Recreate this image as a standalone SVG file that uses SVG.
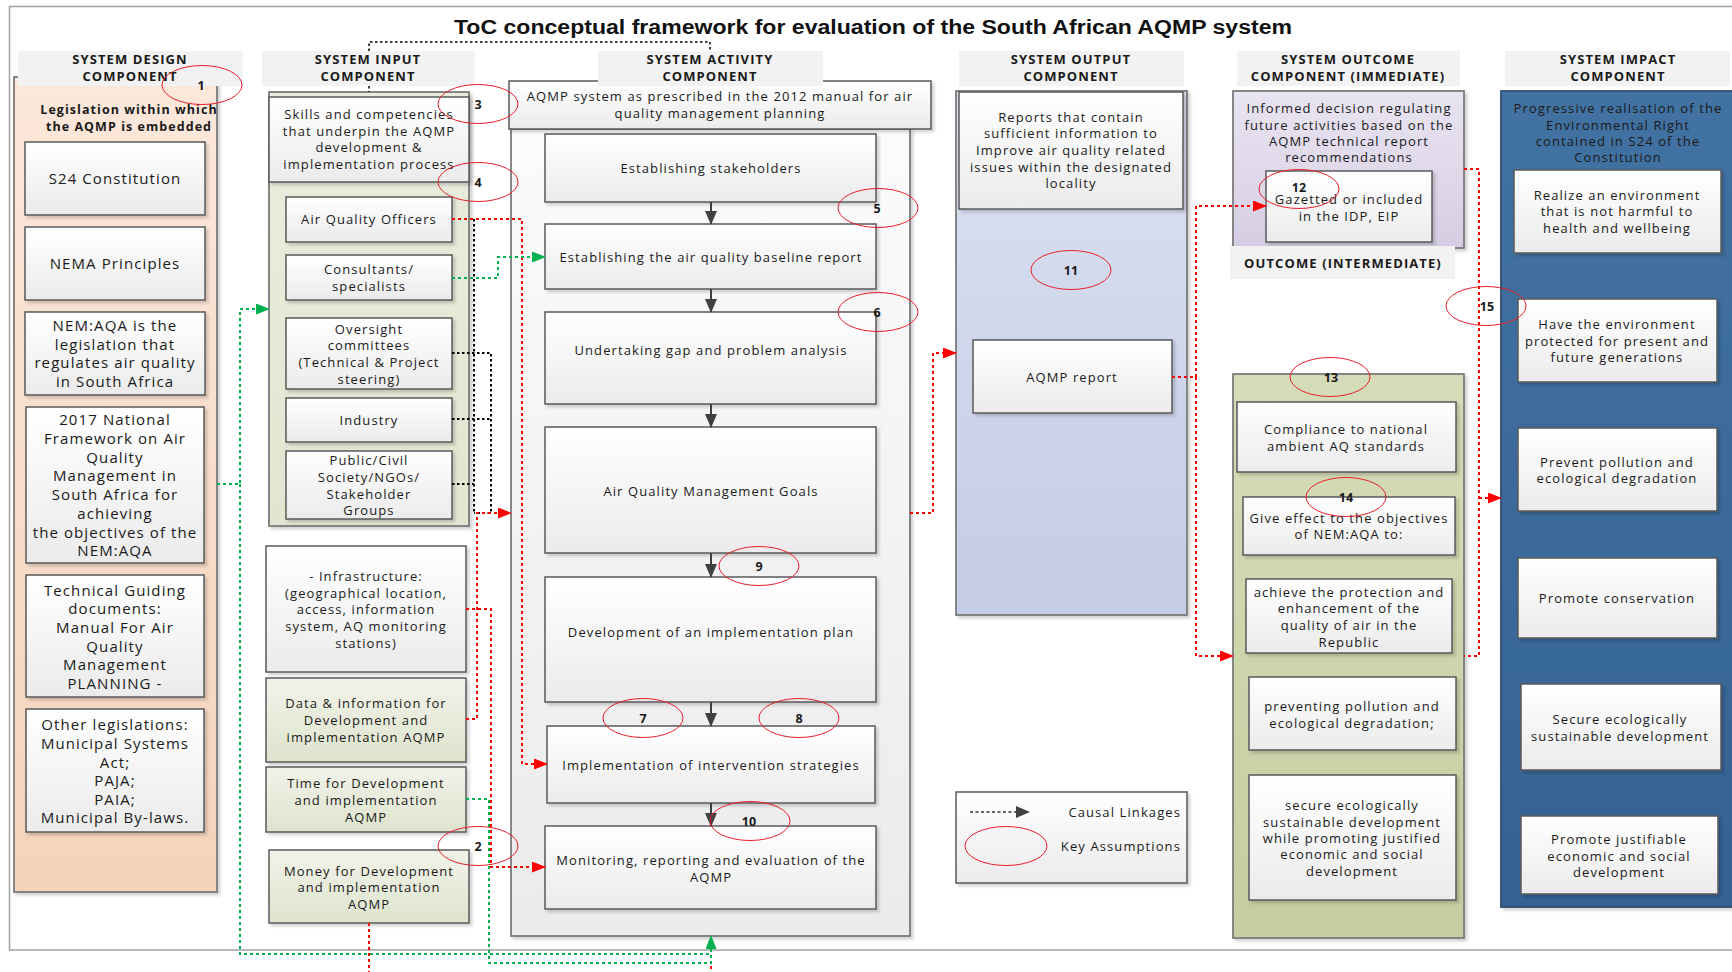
<svg xmlns="http://www.w3.org/2000/svg" width="1732" height="972" viewBox="0 0 1732 972">
  <defs>
    <style>
      .hd { font-family: "Open Sans", "Noto Sans", sans-serif; font-weight: bold; font-size: 13px; letter-spacing: 1.1px; fill: #1a1a1a; text-anchor: middle; dominant-baseline: central; }
      .lb { font-family: "Open Sans", "Noto Sans", sans-serif; font-weight: bold; font-size: 12.5px; letter-spacing: 1.05px; fill: #1a1a1a; text-anchor: middle; dominant-baseline: central; }
      .tx { font-family: "Open Sans", "Noto Sans", sans-serif; font-size: 13px; letter-spacing: 1.1px; fill: #1a1a1a; text-anchor: middle; dominant-baseline: central; }
      .tl { font-family: "Open Sans", "Noto Sans", sans-serif; font-size: 15px; letter-spacing: 1.1px; fill: #1a1a1a; text-anchor: middle; dominant-baseline: central; }
      .num { font-family: "Open Sans", "Noto Sans", sans-serif; font-weight: bold; font-size: 12.5px; fill: #1a1a1a; text-anchor: middle; dominant-baseline: central; }
      .band { fill: #f2f2f2; }
      .box { fill: url(#gBox); stroke: #595959; stroke-width: 1.5; filter: url(#sh); }
      .gbox { fill: url(#gGreen); stroke: #595959; stroke-width: 1.5; filter: url(#sh); }
      .panel { stroke: #7a7a7a; stroke-width: 1.8; filter: url(#sh); }
      .ka { fill: none; stroke: #e8202a; stroke-width: 1; }
      .red { fill: none; stroke: #ff0000; stroke-width: 2; stroke-dasharray: 3 3; }
      .grn { fill: none; stroke: #00b050; stroke-width: 2; stroke-dasharray: 3 3; }
      .blk { fill: none; stroke: #000000; stroke-width: 2; stroke-dasharray: 2.5 2.5; }
      .flow { fill: none; stroke: #404040; stroke-width: 2; }
    </style>
    <linearGradient id="gBox" x1="0" y1="0" x2="0" y2="1"><stop offset="0" stop-color="#ffffff"/><stop offset="1" stop-color="#ebebeb"/></linearGradient>
    <linearGradient id="gGreen" x1="0" y1="0" x2="0" y2="1"><stop offset="0" stop-color="#f1f3e9"/><stop offset="1" stop-color="#dee3cd"/></linearGradient>
    <linearGradient id="gInput" x1="0" y1="0" x2="0" y2="1"><stop offset="0" stop-color="#eaedde"/><stop offset="1" stop-color="#e1e6d0"/></linearGradient>
    <linearGradient id="gDesign" x1="0" y1="0" x2="0" y2="1"><stop offset="0" stop-color="#fce8db"/><stop offset="1" stop-color="#f5d3bb"/></linearGradient>
    <linearGradient id="gAct" x1="0" y1="0" x2="0" y2="1"><stop offset="0" stop-color="#fbfbfb"/><stop offset="1" stop-color="#ebebeb"/></linearGradient>
    <linearGradient id="gOutput" x1="0" y1="0" x2="0" y2="1"><stop offset="0" stop-color="#dce1f1"/><stop offset="1" stop-color="#c4cce6"/></linearGradient>
    <linearGradient id="gImm" x1="0" y1="0" x2="0" y2="1"><stop offset="0" stop-color="#e9e4f1"/><stop offset="1" stop-color="#d5cee3"/></linearGradient>
    <linearGradient id="gInter" x1="0" y1="0" x2="0" y2="1"><stop offset="0" stop-color="#d5dcb9"/><stop offset="1" stop-color="#c5cea0"/></linearGradient>
    <linearGradient id="gImpact" x1="0" y1="0" x2="0" y2="1"><stop offset="0" stop-color="#4272a2"/><stop offset="1" stop-color="#356292"/></linearGradient>
    <filter id="sh" x="-10%" y="-10%" width="125%" height="125%">
      <feDropShadow dx="2.5" dy="2.5" stdDeviation="1.4" flood-color="#000000" flood-opacity="0.18"/>
    </filter>
    <marker id="aR" markerWidth="14" markerHeight="11" refX="13" refY="5.5" orient="auto" markerUnits="userSpaceOnUse"><path d="M0,0 L14,5.5 L0,11 Z" fill="#ff0000"/></marker>
    <marker id="aG" markerWidth="14" markerHeight="11" refX="13" refY="5.5" orient="auto" markerUnits="userSpaceOnUse"><path d="M0,0 L14,5.5 L0,11 Z" fill="#00b050"/></marker>
    <marker id="aK" markerWidth="14" markerHeight="12" refX="13" refY="6" orient="auto" markerUnits="userSpaceOnUse"><path d="M0,0 L14,6 L0,12 Z" fill="#404040"/></marker>
  </defs>

  <rect x="0" y="0" width="1732" height="972" fill="#ffffff"/>

  <!-- outer frame and title -->
  <g id="frame">
    <rect x="9.5" y="6.5" width="1740" height="943.5" fill="#ffffff" stroke="#a3a3a3" stroke-width="1.5"/>
    <text x="873" y="34" font-family="Liberation Sans, Arial, sans-serif" font-weight="bold" font-size="19.5" fill="#111111" text-anchor="middle" textLength="838" lengthAdjust="spacingAndGlyphs">ToC conceptual framework for evaluation of the South African AQMP system</text>
  </g>

  <!-- system design component -->
  <g id="design">
    <rect class="panel" x="14" y="77" width="203" height="815" fill="url(#gDesign)"/>
    <rect class="band" x="18" y="51" width="225" height="35"/>
    <text class="hd" x="130" y="59">SYSTEM DESIGN</text>
    <text class="hd" x="130" y="76">COMPONENT</text>
    <text class="lb" x="129" y="109">Legislation within which</text>
    <text class="lb" x="129" y="126">the AQMP is embedded</text>
    <g id="s24"><rect class="box" x="25" y="142" width="180" height="73"/><text class="tl" x="115" y="178">S24 Constitution</text></g>
    <g id="nema"><rect class="box" x="25" y="227" width="180" height="73"/><text class="tl" x="115" y="263">NEMA Principles</text></g>
    <g id="nemaqa"><rect class="box" x="25" y="312" width="180" height="83"/>
      <text class="tl" x="115" y="325">NEM:AQA is the</text><text class="tl" x="115" y="344">legislation that</text><text class="tl" x="115" y="362">regulates air quality</text><text class="tl" x="115" y="381">in South Africa</text></g>
    <g id="framework2017"><rect class="box" x="26" y="407" width="178" height="156"/>
      <text class="tl" x="115" y="419">2017 National</text><text class="tl" x="115" y="438">Framework on Air</text><text class="tl" x="115" y="457">Quality</text><text class="tl" x="115" y="475">Management in</text><text class="tl" x="115" y="494">South Africa for</text><text class="tl" x="115" y="513">achieving</text><text class="tl" x="115" y="532">the objectives of the</text><text class="tl" x="115" y="550">NEM:AQA</text></g>
    <g id="technical"><rect class="box" x="26" y="575" width="178" height="122"/>
      <text class="tl" x="115" y="590">Technical Guiding</text><text class="tl" x="115" y="608">documents:</text><text class="tl" x="115" y="627">Manual For Air</text><text class="tl" x="115" y="646">Quality</text><text class="tl" x="115" y="664">Management</text><text class="tl" x="115" y="683">PLANNING -</text></g>
    <g id="otherleg"><rect class="box" x="26" y="709" width="178" height="123"/>
      <text class="tl" x="115" y="724">Other legislations:</text><text class="tl" x="115" y="743">Municipal Systems</text><text class="tl" x="115" y="762">Act;</text><text class="tl" x="115" y="780">PAJA;</text><text class="tl" x="115" y="799">PAIA;</text><text class="tl" x="115" y="817">Municipal By-laws.</text></g>
  </g>

  <!-- system input component -->
  <g id="input">
    <rect class="band" x="262" y="51" width="213" height="35"/>
    <text class="hd" x="368" y="59">SYSTEM INPUT</text>
    <text class="hd" x="368" y="76">COMPONENT</text>
    <rect class="panel" x="269" y="92" width="200" height="434" fill="url(#gInput)"/>
    <g id="skills"><rect class="box" x="269" y="97" width="200" height="85"/>
      <text class="tx" x="369" y="114">Skills and competencies</text><text class="tx" x="369" y="131">that underpin the AQMP</text><text class="tx" x="369" y="147">development &amp;</text><text class="tx" x="369" y="164">implementation process</text></g>
    <g id="aqo"><rect class="box" x="286" y="197" width="166" height="45"/><text class="tx" x="369" y="219">Air Quality Officers</text></g>
    <g id="consultants"><rect class="box" x="286" y="255" width="166" height="45"/><text class="tx" x="369" y="269">Consultants/</text><text class="tx" x="369" y="286">specialists</text></g>
    <g id="oversight"><rect class="box" x="286" y="318" width="166" height="71"/>
      <text class="tx" x="369" y="329">Oversight</text><text class="tx" x="369" y="345">committees</text><text class="tx" x="369" y="362">(Technical &amp; Project</text><text class="tx" x="369" y="379">steering)</text></g>
    <g id="industry"><rect class="box" x="286" y="398" width="166" height="44"/><text class="tx" x="369" y="420">Industry</text></g>
    <g id="public"><rect class="box" x="286" y="451" width="166" height="68"/>
      <text class="tx" x="369" y="460">Public/Civil</text><text class="tx" x="369" y="477">Society/NGOs/</text><text class="tx" x="369" y="494">Stakeholder</text><text class="tx" x="369" y="510">Groups</text></g>
    <g id="infrastructure"><rect class="box" x="266" y="546" width="200" height="126"/>
      <text class="tx" x="366" y="576">- Infrastructure:</text><text class="tx" x="366" y="593">(geographical location,</text><text class="tx" x="366" y="609">access, information</text><text class="tx" x="366" y="626">system, AQ monitoring</text><text class="tx" x="366" y="643">stations)</text></g>
    <g id="data"><rect class="gbox" x="266" y="678" width="200" height="84"/>
      <text class="tx" x="366" y="703">Data &amp; information for</text><text class="tx" x="366" y="720">Development and</text><text class="tx" x="366" y="737">implementation AQMP</text></g>
    <g id="time"><rect class="gbox" x="266" y="767" width="200" height="65"/>
      <text class="tx" x="366" y="783">Time for Development</text><text class="tx" x="366" y="800">and implementation</text><text class="tx" x="366" y="817">AQMP</text></g>
    <g id="money"><rect class="gbox" x="269" y="850" width="200" height="73"/>
      <text class="tx" x="369" y="871">Money for Development</text><text class="tx" x="369" y="887">and implementation</text><text class="tx" x="369" y="904">AQMP</text></g>
  </g>

  <!-- system activity component -->
  <g id="activity">
    <rect class="panel" x="511" y="129" width="399" height="807" fill="url(#gAct)"/>
    <g id="aqmp-system"><rect class="box" x="509" y="81" width="422" height="48"/>
      <text class="tx" x="720" y="96">AQMP system as prescribed in the 2012 manual for air</text><text class="tx" x="720" y="113">quality management planning</text></g>
    <rect class="band" x="598" y="51" width="225" height="35"/>
    <text class="hd" x="710" y="59">SYSTEM ACTIVITY</text>
    <text class="hd" x="710" y="76">COMPONENT</text>
    <g id="stakeholders"><rect class="box" x="545" y="134" width="331" height="68"/><text class="tx" x="711" y="168">Establishing stakeholders</text></g>
    <g id="baseline"><rect class="box" x="545" y="224" width="331" height="65"/><text class="tx" x="711" y="257">Establishing the air quality baseline report</text></g>
    <g id="gap"><rect class="box" x="545" y="312" width="331" height="92"/><text class="tx" x="711" y="350">Undertaking gap and problem analysis</text></g>
    <g id="goals"><rect class="box" x="545" y="427" width="331" height="126"/><text class="tx" x="711" y="491">Air Quality Management Goals</text></g>
    <g id="plan"><rect class="box" x="545" y="577" width="331" height="125"/><text class="tx" x="711" y="632">Development of an implementation plan</text></g>
    <g id="intervention"><rect class="box" x="547" y="726" width="328" height="77"/><text class="tx" x="711" y="765">Implementation of intervention strategies</text></g>
    <g id="monitoring"><rect class="box" x="545" y="826" width="331" height="83"/>
      <text class="tx" x="711" y="860">Monitoring, reporting and evaluation of the</text><text class="tx" x="711" y="877">AQMP</text></g>
  </g>

  <!-- system output component -->
  <g id="output">
    <rect class="band" x="959" y="51" width="225" height="35"/>
    <text class="hd" x="1071" y="59">SYSTEM OUTPUT</text>
    <text class="hd" x="1071" y="76">COMPONENT</text>
    <rect class="panel" x="956" y="91" width="231" height="524" fill="url(#gOutput)"/>
    <g id="reports"><rect class="box" x="959" y="92" width="224" height="117"/>
      <text class="tx" x="1071" y="117">Reports that contain</text><text class="tx" x="1071" y="133">sufficient information to</text><text class="tx" x="1071" y="150">Improve air quality related</text><text class="tx" x="1071" y="167">issues within the designated</text><text class="tx" x="1071" y="183">locality</text></g>
    <g id="aqmp-report"><rect class="box" x="973" y="340" width="199" height="73"/><text class="tx" x="1072" y="377">AQMP report</text></g>
  </g>

  <!-- system outcome component -->
  <g id="outcome">
    <rect class="band" x="1237" y="51" width="223" height="35"/>
    <text class="hd" x="1348" y="59">SYSTEM OUTCOME</text>
    <text class="hd" x="1348" y="76">COMPONENT (IMMEDIATE)</text>
    <rect class="panel" x="1233" y="91" width="231" height="157" fill="url(#gImm)"/>
    <text class="tx" x="1349" y="108">Informed decision regulating</text><text class="tx" x="1349" y="125">future activities based on the</text><text class="tx" x="1349" y="141">AQMP technical report</text><text class="tx" x="1349" y="157">recommendations</text>
    <g id="gazetted"><rect class="box" x="1266" y="171" width="166" height="71"/>
      <text class="tx" x="1349" y="199">Gazetted or included</text><text class="tx" x="1349" y="216">in the IDP, EIP</text></g>
    <rect class="band" x="1230" y="246" width="225" height="33"/>
    <text class="hd" x="1343" y="263">OUTCOME (INTERMEDIATE)</text>
    <rect class="panel" x="1233" y="374" width="231" height="564" fill="url(#gInter)"/>
    <g id="compliance"><rect class="box" x="1237" y="402" width="219" height="70"/>
      <text class="tx" x="1346" y="429">Compliance to national</text><text class="tx" x="1346" y="446">ambient AQ standards</text></g>
    <g id="give-effect"><rect class="box" x="1243" y="497" width="212" height="58"/>
      <text class="tx" x="1349" y="518">Give effect to the objectives</text><text class="tx" x="1349" y="534">of NEM:AQA to:</text></g>
    <g id="achieve"><rect class="box" x="1246" y="579" width="206" height="74"/>
      <text class="tx" x="1349" y="592">achieve the protection and</text><text class="tx" x="1349" y="608">enhancement of the</text><text class="tx" x="1349" y="625">quality of air in the</text><text class="tx" x="1349" y="642">Republic</text></g>
    <g id="preventing"><rect class="box" x="1249" y="677" width="207" height="73"/>
      <text class="tx" x="1352" y="706">preventing pollution and</text><text class="tx" x="1352" y="723">ecological degradation;</text></g>
    <g id="secure-dev"><rect class="box" x="1249" y="775" width="207" height="125"/>
      <text class="tx" x="1352" y="805">secure ecologically</text><text class="tx" x="1352" y="822">sustainable development</text><text class="tx" x="1352" y="838">while promoting justified</text><text class="tx" x="1352" y="854">economic and social</text><text class="tx" x="1352" y="871">development</text></g>
  </g>

  <!-- system impact component -->
  <g id="impact">
    <rect class="band" x="1505" y="51" width="225" height="35"/>
    <text class="hd" x="1618" y="59">SYSTEM IMPACT</text>
    <text class="hd" x="1618" y="76">COMPONENT</text>
    <rect x="1501" y="91" width="240" height="816" fill="url(#gImpact)" stroke="#2d4e74" stroke-width="1.8" filter="url(#sh)"/>
    <text class="tx" x="1618" y="108">Progressive realisation of the</text><text class="tx" x="1618" y="125">Environmental Right</text><text class="tx" x="1618" y="141">contained in S24 of the</text><text class="tx" x="1618" y="157">Constitution</text>
    <g id="realize"><rect class="box" x="1514" y="170" width="207" height="83"/>
      <text class="tx" x="1617" y="195">Realize an environment</text><text class="tx" x="1617" y="211">that is not harmful to</text><text class="tx" x="1617" y="228">health and wellbeing</text></g>
    <g id="protected"><rect class="box" x="1518" y="299" width="199" height="83"/>
      <text class="tx" x="1617" y="324">Have the environment</text><text class="tx" x="1617" y="341">protected for present and</text><text class="tx" x="1617" y="357">future generations</text></g>
    <g id="prevent"><rect class="box" x="1518" y="428" width="199" height="83"/>
      <text class="tx" x="1617" y="462">Prevent pollution and</text><text class="tx" x="1617" y="478">ecological degradation</text></g>
    <g id="conservation"><rect class="box" x="1518" y="558" width="199" height="80"/><text class="tx" x="1617" y="598">Promote conservation</text></g>
    <g id="secure"><rect class="box" x="1521" y="684" width="200" height="86"/>
      <text class="tx" x="1620" y="719">Secure ecologically</text><text class="tx" x="1620" y="736">sustainable development</text></g>
    <g id="justifiable"><rect class="box" x="1521" y="816" width="197" height="78"/>
      <text class="tx" x="1619" y="839">Promote justifiable</text><text class="tx" x="1619" y="856">economic and social</text><text class="tx" x="1619" y="872">development</text></g>
  </g>

  <!-- causal linkages -->
  <g id="connectors">
    <!-- activity sequence -->
    <path class="flow" d="M711,202 V224" marker-end="url(#aK)"/>
    <path class="flow" d="M711,289 V312" marker-end="url(#aK)"/>
    <path class="flow" d="M711,404 V427" marker-end="url(#aK)"/>
    <path class="flow" d="M711,553 V577" marker-end="url(#aK)"/>
    <path class="flow" d="M711,702 V726" marker-end="url(#aK)"/>
    <path class="flow" d="M711,803 V826" marker-end="url(#aK)"/>
    <!-- input to activity header -->
    <path class="blk" style="stroke-width:1.5" d="M369,51 V42 H710 V51"/>
    <path class="blk" style="stroke-width:1.5" d="M369,86 V92"/>
    <!-- stakeholders group -->
    <path class="blk" d="M474,219 V513"/>
    <path class="blk" d="M452,353 H491 V513 H474"/>
    <path class="blk" d="M452,419 H491"/>
    <path class="blk" d="M452,484 H474"/>
    <path class="red" d="M466,719 H477 V513 H511" marker-end="url(#aR)"/>
    <!-- officers to intervention strategies -->
    <path class="red" d="M452,219 H522 V764 H547" marker-end="url(#aR)"/>
    <!-- consultants to baseline -->
    <path class="grn" d="M452,278 H498 V257 H545" marker-end="url(#aG)"/>
    <!-- infrastructure to monitoring -->
    <path class="red" d="M466,609 H491 V867 H545" marker-end="url(#aR)"/>
    <!-- design to input and activity -->
    <path class="grn" d="M217,484 H240 V309 H269" marker-end="url(#aG)"/>
    <path class="grn" d="M240,484 V954 H711"/>
    <path class="grn" d="M466,799 H489 V963 H711 V936" marker-end="url(#aG)"/>
    <path class="red" d="M369,923 V972"/>
    <path class="red" d="M711,966 V972"/>
    <!-- activity to output -->
    <path class="red" d="M910,513 H933 V353 H956" marker-end="url(#aR)"/>
    <!-- output to outcomes -->
    <path class="red" d="M1172,377 H1196 V206 H1266" marker-end="url(#aR)"/>
    <path class="red" d="M1196,377 V656 H1233" marker-end="url(#aR)"/>
    <!-- outcomes to impact -->
    <path class="red" d="M1464,169 H1479 V656 H1464"/>
    <path class="red" d="M1479,498 H1501" marker-end="url(#aR)"/>
  </g>

  <!-- key assumptions -->
  <g id="assumptions">
    <ellipse class="ka" cx="202" cy="85" rx="40" ry="19.5"/><text class="num" x="201" y="85">1</text>
    <ellipse class="ka" cx="478" cy="846" rx="40" ry="19.5"/><text class="num" x="478" y="846">2</text>
    <ellipse class="ka" cx="478" cy="104" rx="40" ry="19.5"/><text class="num" x="478" y="104">3</text>
    <ellipse class="ka" cx="478" cy="182" rx="40" ry="19.5"/><text class="num" x="478" y="182">4</text>
    <ellipse class="ka" cx="878" cy="208" rx="40" ry="19.5"/><text class="num" x="877" y="208">5</text>
    <ellipse class="ka" cx="878" cy="312" rx="40" ry="19.5"/><text class="num" x="877" y="312">6</text>
    <ellipse class="ka" cx="643" cy="718" rx="40" ry="19.5"/><text class="num" x="643" y="718">7</text>
    <ellipse class="ka" cx="799" cy="718" rx="40" ry="19.5"/><text class="num" x="799" y="718">8</text>
    <ellipse class="ka" cx="759" cy="566" rx="40" ry="19.5"/><text class="num" x="759" y="566">9</text>
    <ellipse class="ka" cx="750" cy="821" rx="40" ry="19.5"/><text class="num" x="749" y="821">10</text>
    <ellipse class="ka" cx="1071" cy="270" rx="40" ry="19.5"/><text class="num" x="1071" y="270">11</text>
    <ellipse class="ka" cx="1299" cy="189" rx="40" ry="19.5"/><text class="num" x="1299" y="187">12</text>
    <ellipse class="ka" cx="1330" cy="377" rx="40" ry="19.5"/><text class="num" x="1331" y="377">13</text>
    <ellipse class="ka" cx="1346" cy="497" rx="40" ry="19.5"/><text class="num" x="1346" y="497">14</text>
    <ellipse class="ka" cx="1486" cy="306" rx="40" ry="19.5"/><text class="num" x="1487" y="306">15</text>
  </g>

  <!-- legend -->
  <g id="legend">
    <rect class="box" x="956" y="792" width="231" height="91"/>
    <path d="M970,812 H1029" fill="none" stroke="#333333" stroke-width="1.5" stroke-dasharray="3 2.5" marker-end="url(#aK)"/>
    <text class="tx" x="1181" y="812" style="text-anchor:end">Causal Linkages</text>
    <ellipse class="ka" cx="1006" cy="846" rx="41" ry="19.5"/>
    <text class="tx" x="1181" y="846" style="text-anchor:end">Key Assumptions</text>
  </g>
</svg>
